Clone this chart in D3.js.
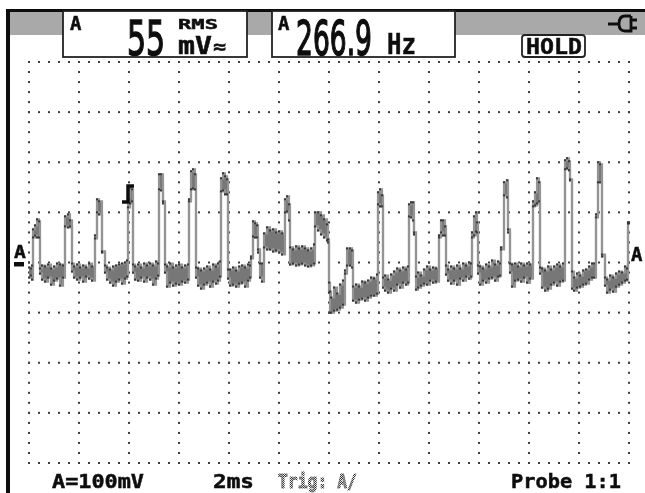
<!DOCTYPE html>
<html>
<head>
<meta charset="utf-8">
<script src="https://cdnjs.cloudflare.com/ajax/libs/d3/7.8.5/d3.min.js"></script>
<style>
html,body{margin:0;padding:0;background:#fff;overflow:hidden}
svg{display:block}
text{font-family:"DejaVu Sans Mono",monospace;font-weight:bold;fill:#111;stroke:#111;stroke-width:.5}
</style>
</head>
<body>
<svg id="scope" width="645" height="493"></svg>
<script>
// trace: sample number (1 sample = 40us), top and bottom of envelope in mV
var samples = [0,2,3,4,6,8,10,11,13,16,19,22,25,28,31,34,36,39,41,43,45,48,51,54,57,60,63,66,68,70,73,76,78,81,84,87,90,93,96,98,
  99,101,103,104,106,109,112,115,118,121,124,127,129,130,132,134,136,138,141,144,147,150,153,156,159,160,162,164,166,
  167,169,172,175,178,181,184,187,189,191,192,194,196,198,199,201,204,207,210,213,216,219,221,222,224,226,228,229,231,233,
  235,238,241,244,247,250,253,256,258,260,261,264,267,270,273,276,279,282,285,286,289,292,295,298,299,300,301,302,305,308,311,314,
  316,318,321,323,324,327,330,333,336,339,342,345,348,349,351,353,354,356,359,362,365,368,371,374,377,379,380,382,384,385,
  387,389,392,395,398,401,404,407,410,412,414,416,417,419,422,425,428,431,434,437,440,442,443,445,447,448,449,451,454,457,460,463,466,469,471,
  472,475,478,479,481,483,486,489,492,495,498,501,504,506,508,510,511,513,516,519,522,525,528,531,534,536,538,540,541,
  543,545,548,551,554,557,560,563,565,567,569,571,573,576,578,581,584,587,590,593,596,598,599,600];
var traceHi = [-10,-12,-6,66,74,86,82,-12,-6,-8,-4,-12,-8,-2,-4,-6,92,96,84,-2,-8,-4,-10,-6,-10,-2,-8,54,126,122,22,-6,-10,-14,-8,-6,-4,-2,0,4,
  130,150,146,-4,-8,-4,-10,-2,-6,-2,-6,2,-2,176,176,122,-4,-8,-2,-10,-6,-4,-10,-6,-4,126,182,186,176,
  -10,-12,-16,-12,-8,-14,-4,-8,-2,2,168,178,172,166,-14,-14,-10,-16,-8,-6,-10,-4,-6,12,82,78,74,26,-2,-2,
  58,70,64,66,60,62,58,126,132,116,30,26,32,28,32,28,24,28,36,100,100,94,86,76,46,-40,-58,-70,-50,-62,-44,-36,
  -16,28,28,24,-48,-44,-48,-38,-40,-36,-30,-32,-24,140,146,134,-30,-26,-34,-24,-18,-12,-16,-10,-14,-8,116,120,120,60,
  -28,-20,-26,-14,-8,-14,-10,-12,54,84,84,72,-6,-14,-8,-12,-6,-12,-2,-6,0,-2,60,92,100,80,-6,-8,-12,-4,-8,4,-4,2,-2,
  30,160,164,66,-2,-4,-2,-8,-2,-6,-2,-4,122,140,168,160,-10,-12,-16,-8,-14,-8,-4,-8,-2,204,208,202,166,
  -18,-30,-22,-26,-16,-14,-8,-2,-2,96,200,196,16,-30,-34,-26,-30,-22,-18,-20,-8,-12,80,80];
var traceLo = [-30,-26,-34,50,54,50,50,-22,-34,-38,-30,-44,-36,-32,-46,-30,72,70,72,-18,-30,-34,-30,-38,-28,-32,-36,48,100,96,20,-20,-34,-40,-46,-38,-34,-42,-32,-28,
  110,118,122,-20,-34,-36,-30,-38,-30,-34,-44,-32,-26,146,144,118,-20,-48,-40,-46,-42,-44,-38,-40,-34,122,146,148,146,
  -30,-46,-52,-44,-40,-48,-38,-42,-36,-28,142,144,136,136,-32,-46,-44,-48,-42,-40,-48,-36,-30,8,52,50,50,20,-30,-38,
  30,26,26,22,24,20,16,100,102,84,-4,-2,-6,-4,-2,-6,-8,-6,-2,72,64,56,50,44,40,-60,-100,-100,-96,-94,-90,-84,
  -22,-6,-6,-10,-76,-80,-74,-72,-76,-70,-66,-66,-62,116,112,112,-50,-56,-60,-52,-56,-44,-50,-40,-44,-40,92,90,84,56,
  -54,-50,-46,-42,-44,-36,-40,-38,50,60,54,54,-24,-36,-42,-36,-44,-32,-36,-28,-32,-28,50,54,62,60,-22,-44,-36,-40,-32,-30,-36,-28,-26,
  26,134,130,60,-20,-48,-36,-34,-38,-30,-40,-32,112,114,118,122,-22,-50,-56,-52,-44,-40,-46,-38,-36,186,188,184,164,
  -52,-56,-50,-48,-44,-42,-34,-30,-30,90,160,160,12,-46,-60,-54,-58,-48,-44,-40,-36,-34,78,78];

var timeDivs = d3.range(0, 13);
var voltDivs = d3.range(-4, 5);
var readingA = "55";
var readingHz = "266.9";
var footerLabels = ["A=100mV", "2ms", "Trig: A/", "Probe 1:1"];

var svg = d3.select("#scope");
var x = d3.scaleLinear().domain([0, 600]).range([29, 629]);
var y = d3.scaleLinear().domain([-400, 400]).range([463, 62]);
var xDiv = function(d){ return x(d * 50); };
var yDiv = function(d){ return y(d * 100); };

var defs = svg.append("defs");
defs.append("filter").attr("id", "soft").append("feGaussianBlur").attr("stdDeviation", 0.45);
// dithered grey for the trigger text
var dither = defs.append("pattern").attr("id", "dither").attr("width", 2).attr("height", 2)
  .attr("patternUnits", "userSpaceOnUse");
dither.append("rect").attr("width", 1).attr("height", 1).attr("fill", "#222");
dither.append("rect").attr("x", 1).attr("y", 1).attr("width", 1).attr("height", 1).attr("fill", "#222");
var root = svg.append("g").attr("filter", "url(#soft)");

// header and frame
root.append("rect").attr("x", 10).attr("y", 11).attr("width", 635).attr("height", 24).attr("fill", "#a9a9a9");
root.append("rect").attr("x", 6).attr("y", 9).attr("width", 639).attr("height", 3).attr("fill", "#111");
root.append("rect").attr("x", 6).attr("y", 9).attr("width", 4).attr("height", 484).attr("fill", "#111");

// readout boxes
[[63, 184], [272, 183]].forEach(function(b){
  root.append("rect").attr("x", b[0]).attr("y", 11).attr("width", b[1]).attr("height", 46)
    .attr("fill", "#fff").attr("stroke", "#222").attr("stroke-width", 1.8);
});
root.append("rect").attr("x", 522).attr("y", 35).attr("width", 63).attr("height", 22).attr("rx", 3)
  .attr("fill", "#fff").attr("stroke", "#222").attr("stroke-width", 1.8);

// dotted graticule
var dots = root.append("g").attr("fill", "#3c3c3c");
voltDivs.forEach(function(v){
  d3.range(0, 601, 10).forEach(function(s){
    dots.append("rect").attr("x", x(s) - 1).attr("y", yDiv(v) - 1).attr("width", 2).attr("height", 2);
  });
});
timeDivs.forEach(function(t){
  d3.range(-400, 401, 20).forEach(function(m){
    dots.append("rect").attr("x", xDiv(t) - 1).attr("y", y(m) - 1).attr("width", 2).attr("height", 2);
  });
});

// trace
var rows = samples.map(function(s, i){ return {s: s, hi: traceHi[i], lo: traceLo[i]}; });
var band = d3.area().curve(d3.curveStepAfter)
  .x(function(d){ return x(d.s); }).y0(function(d){ return y(d.lo); }).y1(function(d){ return y(d.hi); });
var edge = function(key){
  return d3.line().curve(d3.curveStepAfter)
    .x(function(d){ return x(d.s); }).y(function(d){ return y(d[key]); });
};
root.append("path").datum(rows).attr("d", band).attr("fill", "#777");
["hi", "lo"].forEach(function(k){
  root.append("path").datum(rows).attr("d", edge(k)).attr("fill", "none").attr("stroke", "#949494").attr("stroke-width", 2.2);
});
["hi", "lo"].forEach(function(k){
  root.append("g").selectAll("rect").data(rows).enter().append("rect")
    .attr("x", function(d){ return x(d.s) - 1; })
    .attr("y", function(d){ return y(d[k]) - 1; })
    .attr("width", 2).attr("height", 2).attr("fill", "#383838");
});

// text, squeezed sideways to the width it has on the scope screen
var fit = function(t, px, py, width){
  var w = t.node().getBBox().width;
  t.attr("transform", "translate(" + px + "," + py + ") scale(" + (width / w) + ",1)");
  return t;
};
var label = function(txt, px, py, size, width){
  var t = root.append("text").attr("font-size", size).text(txt);
  return fit(t, px, py, width);
};
var bigLabel = function(txt, px, width){
  var t = label(txt, px, 55, 48, width);
  return t.style("font-family", "'DejaVu Sans'").style("font-weight", "normal").style("stroke-width", 1.6);
};
label("A", 70, 30, 19, 12);
label("A", 278, 30, 19, 12);
fit(bigLabel(readingA, 127, 38), 127, 55, 38);
fit(bigLabel(readingHz, 296, 76), 296, 55, 76);
label("RMS", 178, 29, 14, 40);
label("mV", 178, 54, 24, 34);
label("≈", 213, 53, 19, 13);
label("Hz", 387, 54, 29, 29);
label("HOLD", 526, 54, 22, 56);
label("A", 14, 258, 18, 12);
root.append("rect").attr("x", 14).attr("y", 262).attr("width", 10).attr("height", 4.5).attr("fill", "#111");
label("A", 631, 261, 19, 12);
label(footerLabels[0], 52, 488, 19, 92);
label(footerLabels[1], 213, 488, 19, 41);
label(footerLabels[2], 278, 488, 19, 79).style("fill", "url(#dither)").style("stroke", "url(#dither)").style("stroke-width", 0.9);
label(footerLabels[3], 511, 488, 19, 110);

// trigger mark
root.append("path").attr("d", "M122 202H128V186H134").attr("fill", "none").attr("stroke", "#111").attr("stroke-width", 3.5);
// mains plug
root.append("path").attr("d", "M608 24H620M631 16H625Q619 16 619 24Q619 31 625 31H631V16M631 20H637M631 28H637")
  .attr("fill", "none").attr("stroke", "#111").attr("stroke-width", 2.8);
</script>
</body>
</html>
